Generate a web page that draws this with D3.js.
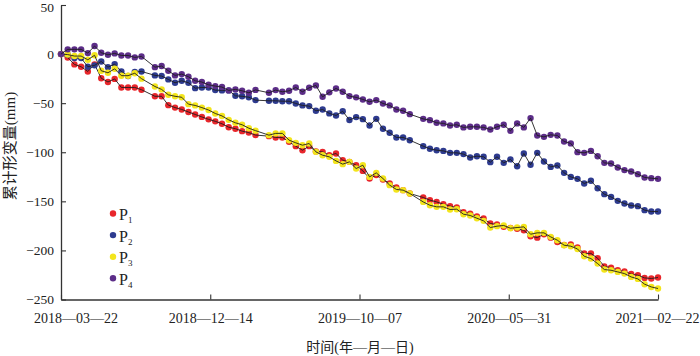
<!DOCTYPE html>
<html>
<head>
<meta charset="utf-8">
<script src="https://cdn.jsdelivr.net/npm/d3@7"></script>
<style>
  body { margin: 0; background: #fff; }
  text { font-family: "Liberation Serif", "Noto Sans CJK SC", serif; fill: #222; }
</style>
</head>
<body>
<div id="chart"></div>
<script>
  const width = 700;
  const height = 356;

  // acquisition dates (12-day revisit, a few scenes missing)
  const dates = [
    "2018-03-22","2018-04-03","2018-04-15","2018-04-27","2018-05-09","2018-05-21","2018-06-02","2018-06-14","2018-06-26","2018-07-08","2018-07-20","2018-08-01","2018-08-13",
    "2018-09-06","2018-09-18","2018-09-30","2018-10-12","2018-10-24","2018-11-05","2018-11-17","2018-11-29","2018-12-11","2018-12-23",
    "2019-01-04","2019-01-16","2019-01-28","2019-02-09","2019-02-21","2019-03-05",
    "2019-03-29","2019-04-10","2019-04-22","2019-05-04","2019-05-16","2019-05-28","2019-06-09","2019-06-21","2019-07-03","2019-07-15","2019-07-27","2019-08-08","2019-08-20","2019-09-01","2019-09-13","2019-09-25","2019-10-07","2019-10-19","2019-10-31","2019-11-12","2019-11-24","2019-12-06",
    "2019-12-30","2020-01-11","2020-01-23","2020-02-04","2020-02-16","2020-02-28","2020-03-11","2020-03-23","2020-04-04","2020-04-16","2020-04-28","2020-05-10","2020-05-22","2020-06-03","2020-06-15","2020-06-27","2020-07-09","2020-07-21","2020-08-02","2020-08-14","2020-08-26","2020-09-07","2020-09-19","2020-10-01","2020-10-13","2020-10-25","2020-11-06","2020-11-18","2020-11-30","2020-12-12","2020-12-24",
    "2021-01-05","2021-01-17","2021-01-29","2021-02-10","2021-02-22"
  ];

  const p1 = [
    0,-3.5,-10.5,-12.9,-17.7,-10.5,-24.6,-28.4,-25.3,-34,-34,-34,-36.3,
    -43,-43,-52,-54.5,-56.4,-59,-61.5,-64,-66.5,-68.5,
    -71,-74.5,-76,-78.5,-80,-82.5,
    -83.6,-84.9,-84.9,-89.4,-93.8,-97.9,-93.8,-99.2,-99.6,-103,-101.3,-108.1,-109.8,-113.2,-119,-126.8,-123.3,-127.8,-131.8,-135.9,-138.6,-142,
    -146.1,-148.8,-150.6,-152.9,-154.9,-156.3,-161,-162.5,-165.5,-167.5,-172.6,-173.5,-176,-177,-178,-179.5,-185.5,-187,-183.5,-187,-191.5,-194.5,-194,-197,-203.2,-203,-208,-216.3,-217.5,-220.2,-221.5,
    -224,-225.3,-228,-228.6,-227.6
  ];

  const p2 = [
    0,-0.7,-4.1,-4.1,-12.9,-11.5,-7.5,-13.3,-10.2,-17.7,-22.4,-18.3,-17.7,
    -21.7,-22.4,-25.8,-29.2,-27.2,-29.2,-34.7,-34,-34,-36.7,
    -37,-37,-42.5,-43,-44,-46.9,
    -47.6,-47.6,-48,-48,-50.3,-52.3,-53,-57.8,-56.5,-60.4,-62.5,-58.3,-67.2,-64.2,-66.3,-72.7,-66,-76.1,-80.2,-84.9,-84.9,-87.7,
    -93.8,-96.5,-97.9,-98.6,-100.6,-100.6,-101.9,-105.3,-104,-104.6,-110.1,-104.6,-110.8,-107.3,-114.2,-101.2,-112.8,-100.6,-109.4,-114.9,-113.5,-121,-125.1,-127.1,-131.8,-129.1,-136.6,-142.7,-145.5,-149.5,-152.2,
    -154.3,-154.9,-159,-160.4,-160.4
  ];

  const p3 = [
    0,-0.5,-2,-2,-5.8,-1.2,-17,-19,-15,-22,-22,-19.5,-25,
    -33,-36,-41.5,-43,-44,-51,-52.3,-54.5,-57,-60.5,
    -63,-67,-70,-72,-75.5,-78,
    -82.6,-80.8,-80.8,-87.7,-90.4,-92.8,-91.1,-99.6,-103,-104.7,-108.8,-112.1,-109.8,-116.6,-113.2,-125.1,-121,-126.8,-133.5,-137.9,-138.6,-142,
    -150.6,-154,-155.6,-155.6,-158.3,-158,-163.1,-164.4,-167.2,-169.9,-176.7,-175.3,-174.6,-177.4,-176.7,-176,-183.5,-182.1,-182.1,-186.2,-189.6,-194.7,-195.7,-198.5,-205.9,-208.3,-213.4,-219.5,-220.2,-221.9,-223.6,
    -227,-229,-234.4,-237.2,-238.8
  ];

  const p4 = [
    0,4.8,4.8,4.8,1,8.2,1.4,-0.7,0.7,-1.4,-1.4,-3.4,-2.4,
    -13.3,-12.2,-17,-21.7,-20.4,-23.1,-27.2,-28.5,-31.3,-32.6,
    -33.6,-37,-36,-37.4,-39.4,-36.5,
    -39.4,-36.7,-38.4,-37.4,-34,-38.4,-34.3,-31.9,-43.5,-39,-35,-38.4,-42.8,-44.1,-46.2,-48.6,-46.9,-50.3,-52.3,-56.4,-57.8,-61.2,
    -66,-67.3,-70,-70.6,-72.7,-72,-74.7,-74.1,-74.1,-74.7,-76.8,-74.1,-72,-78.2,-70.6,-74.7,-65.2,-82.9,-84.3,-82.3,-82.9,-89,-91,-99.9,-100.6,-98.6,-104,-110.8,-111.4,-115.5,-118.2,
    -119.6,-122.3,-125.7,-126.4,-127.1
  ];

  const seriesNames = ["1", "2", "3", "4"];
  const seriesColors = ["#e8262b", "#2e3b8f", "#f3e51c", "#5c2d88"];
  const seriesValues = [p1, p2, p3, p4];

  // tick positions and the labels printed under them
  const xTickDates = ["2018-03-22", "2018-12-14", "2019-09-07", "2020-05-31", "2021-02-22"];
  const xTickLabels = ["2018—03—22", "2018—12—14", "2019—10—07", "2020—05—31", "2021—02—22"];
  const yTicks = [50, 0, -50, -100, -150, -200, -250];

  const parse = d3.utcParse("%Y-%m-%d");

  const svg = d3.select("#chart").append("svg")
    .attr("width", width)
    .attr("height", height);

  const x = d3.scaleUtc()
    .domain([parse(xTickDates[0]), parse(xTickDates[xTickDates.length - 1])])
    .range([61, 658]);

  const y = d3.scaleLinear()
    .domain([-250, 50])
    .range([299.5, 5]);

  // axes
  const xAxis = d3.axisBottom(x)
    .tickValues(xTickDates.map(parse))
    .tickFormat((d, i) => xTickLabels[i])
    .tickSizeInner(-5)
    .tickSizeOuter(0)
    .tickPadding(14);

  const yAxis = d3.axisLeft(y)
    .tickValues(yTicks)
    .tickSizeInner(-5)
    .tickSizeOuter(0)
    .tickPadding(7);

  const gx = svg.append("g")
    .attr("transform", `translate(0,${y(-250)})`)
    .call(xAxis);

  const gy = svg.append("g")
    .attr("transform", `translate(${x.range()[0]},0)`)
    .call(yAxis);

  [gx, gy].forEach(g => {
    g.select(".domain").attr("stroke", "#333").attr("stroke-width", 1.3);
    g.selectAll(".tick line").attr("stroke", "#333").attr("stroke-width", 1.1);
    g.selectAll(".tick text")
      .style("font-family", "'Liberation Serif', serif")
      .attr("fill", "#222");
  });
  gx.selectAll(".tick text").style("font-size", "14px");
  gy.selectAll(".tick text").style("font-size", "13.5px");
  // top label a touch lower so it stays inside the page
  gy.selectAll(".tick text").filter(d => d === 50).attr("dy", "0.5em");

  // first label sits right of its tick, last one is pulled in from the edge
  const xLabels = gx.selectAll(".tick text");
  xLabels.filter((d, i) => i === 0).attr("dx", 14.5);
  xLabels.filter((d, i, n) => i === n.length - 1)
    .attr("text-anchor", "end")
    .attr("dx", 41);

  // axis titles
  svg.append("text")
    .attr("x", 360)
    .attr("y", 352)
    .attr("text-anchor", "middle")
    .style("font-size", "14px")
    .text("时间(年—月—日)");

  svg.append("text")
    .attr("transform", "translate(15,146) rotate(-90)")
    .attr("text-anchor", "middle")
    .style("font-size", "15px")
    .text("累计形变量(mm)");

  // series
  const line = d3.line()
    .x(d => x(d.date))
    .y(d => y(d.value));

  seriesValues.forEach((vals, s) => {
    const pts = vals.map((v, i) => ({ date: parse(dates[i]), value: v }));
    const g = svg.append("g");

    g.selectAll("circle")
      .data(pts)
      .join("circle")
      .attr("cx", d => x(d.date))
      .attr("cy", d => y(d.value))
      .attr("r", 3.2)
      .attr("fill", seriesColors[s]);

    g.append("path")
      .datum(pts)
      .attr("d", line)
      .attr("fill", "none")
      .attr("stroke", "#1e1e1e")
      .attr("stroke-width", 0.9);
  });

  // legend
  const legend = svg.append("g");
  seriesNames.forEach((name, i) => {
    const ly = 213.5 + i * 21.6;
    legend.append("circle")
      .attr("cx", 113)
      .attr("cy", ly)
      .attr("r", 3.2)
      .attr("fill", seriesColors[i]);
    const t = legend.append("text")
      .attr("x", 119)
      .attr("y", ly + 6.5)
      .style("font-size", "16px");
    t.append("tspan").text("P");
    t.append("tspan")
      .attr("dy", 3)
      .style("font-size", "9px")
      .text(name);
  });
</script>
</body>
</html>
